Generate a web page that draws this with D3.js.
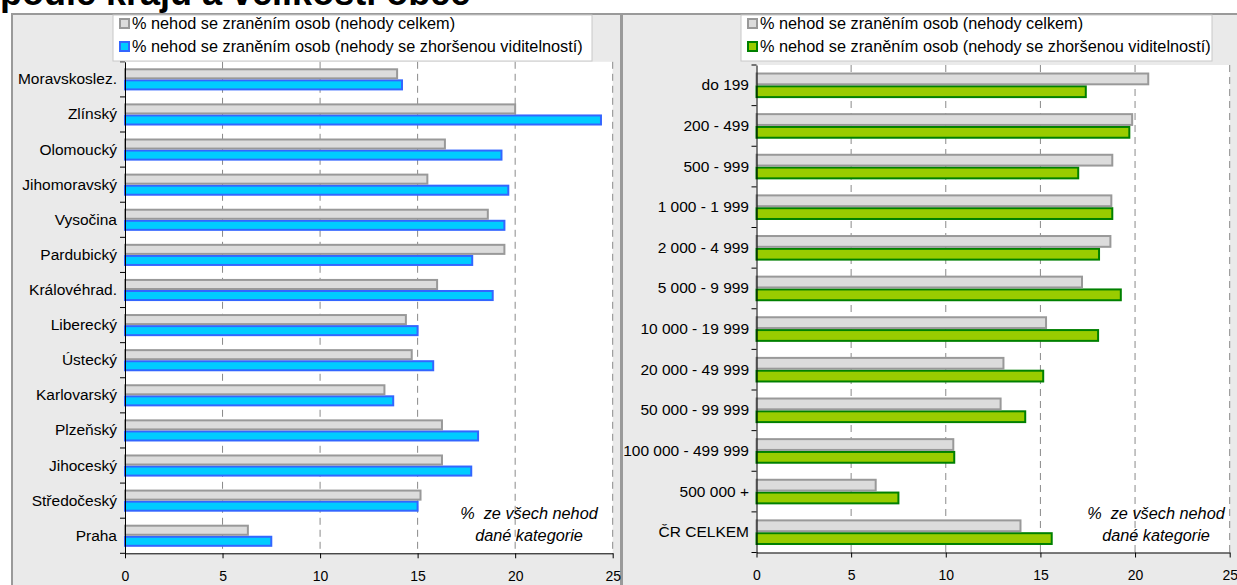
<!DOCTYPE html>
<html>
<head>
<meta charset="utf-8">
<script src="https://cdn.jsdelivr.net/npm/d3@7"></script>
<style>
  html, body { margin: 0; padding: 0; background: #ffffff; }
  svg { display: block; font-family: Arial, "Liberation Sans", sans-serif; }
</style>
</head>
<body>
<svg id="chart" width="1237" height="585"></svg>
<script>
// Regions (kraje), top to bottom
const regions = ["Moravskoslez.", "Zlínský", "Olomoucký", "Jihomoravský", "Vysočina",
  "Pardubický", "Královéhrad.", "Liberecký", "Ústecký", "Karlovarský", "Plzeňský",
  "Jihoceský", "Středočeský", "Praha"];
// % of accidents with injuries – all accidents
const regionTotal = [14.0, 20.05, 16.45, 15.55, 18.65, 19.5, 16.05, 14.45, 14.75, 13.35,
  16.3, 16.3, 15.2, 6.35];
// % of accidents with injuries – accidents with reduced visibility
const regionVisibility = [14.25, 24.45, 19.35, 19.7, 19.5, 17.85, 18.9, 15.05, 15.85, 13.8,
  18.15, 17.8, 15.05, 7.55];

// Municipality size classes (inhabitants), top to bottom
const sizeClasses = ["do 199", "200 - 499", "500 - 999", "1 000 - 1 999", "2 000 - 4 999",
  "5 000 - 9 999", "10 000 - 19 999", "20 000 - 49 999", "50 000 - 99 999",
  "100 000 - 499 999", "500 000 +", "ČR CELKEM"];
const sizeTotal = [20.75, 19.9, 18.85, 18.8, 18.75, 17.25, 15.35, 13.1, 12.95, 10.45, 6.35, 14.0];
const sizeVisibility = [17.45, 19.75, 17.05, 18.85, 18.15, 19.3, 18.1, 15.2, 14.25, 10.5, 7.55, 15.65];

const xTicks = [0, 5, 10, 15, 20, 25];
const legendLabels = ["% nehod se zraněním osob (nehody celkem)",
  "% nehod se zraněním osob (nehody se zhoršenou viditelností)"];
const noteLines = ["%  ze všech nehod", "dané kategorie"];
const titleText = "podle krajů a velikosti obce";

const svg = d3.select("#chart");
const TICK_FONT = 14;
const LABEL_FONT = 15.5;
const LEGEND_FONT = 16.3;
const NOTE_FONT = 16.3;

// Title line (runs above the top edge)
svg.append("text")
  .attr("x", 0).attr("y", 5)
  .attr("font-size", 36).attr("font-weight", "bold").attr("fill", "#000")
  .text(titleText);

const grayStyle = { fill: "#dcdcdc", stroke: "#999999" };

function drawPanel(cfg) {
  const g = svg.append("g");

  // panel background and frame
  g.append("rect")
    .attr("x", cfg.panel.x).attr("y", cfg.panel.y)
    .attr("width", cfg.panel.w).attr("height", cfg.panel.h)
    .attr("fill", "#eaeaea").attr("stroke", "#9a9a9a").attr("stroke-width", 2);

  const x = d3.scaleLinear().domain([0, 25]).range([cfg.plot.x0, cfg.plot.x1]);
  const y = d3.scaleBand().domain(cfg.categories).range([cfg.plot.y0, cfg.plot.y1])
    .paddingInner(0).paddingOuter(0);

  // plot area
  g.append("rect")
    .attr("x", cfg.plot.x0).attr("y", cfg.plot.y0)
    .attr("width", cfg.plot.x1 - cfg.plot.x0).attr("height", cfg.plot.y1 - cfg.plot.y0)
    .attr("fill", "#ffffff");

  // dashed vertical gridlines
  g.append("g").selectAll("line")
    .data(xTicks.filter(d => d > 0))
    .join("line")
    .attr("x1", d => x(d)).attr("x2", d => x(d))
    .attr("y1", cfg.plot.y0).attr("y2", cfg.plot.y1)
    .attr("stroke", "#8a8a8a").attr("stroke-width", 1)
    .attr("stroke-dasharray", "7,5");

  // bars: each bar takes ~31.5% of the band, pair centred in the band
  const bh = y.bandwidth() * 0.315;
  const off = (y.bandwidth() - 2 * bh) / 2;
  const rows = cfg.categories.map((c, i) => ({ c, total: cfg.total[i], vis: cfg.vis[i] }));

  g.append("g").selectAll("rect")
    .data(rows)
    .join("rect")
    .attr("x", x(0))
    .attr("y", d => y(d.c) + off + bh + 1)
    .attr("width", d => x(d.vis) - x(0) - 1)
    .attr("height", bh - 2)
    .attr("fill", cfg.color.fill).attr("stroke", cfg.color.stroke).attr("stroke-width", 2);

  g.append("g").selectAll("rect")
    .data(rows)
    .join("rect")
    .attr("x", x(0))
    .attr("y", d => y(d.c) + off + 1)
    .attr("width", d => x(d.total) - x(0) - 1)
    .attr("height", bh - 2)
    .attr("fill", grayStyle.fill).attr("stroke", grayStyle.stroke).attr("stroke-width", 2);

  // x axis
  const xa = g.append("g")
    .attr("transform", `translate(0,${cfg.plot.y1})`)
    .call(d3.axisBottom(x).tickValues(xTicks).tickSize(5).tickSizeOuter(0).tickPadding(13));
  xa.select(".domain").attr("stroke", "#000");
  xa.selectAll(".tick line").attr("stroke", "#000");
  xa.selectAll("text").attr("font-size", TICK_FONT).attr("fill", "#000")
    .attr("font-family", "Arial, 'Liberation Sans', sans-serif");

  // y axis: labels centred in bands, tick marks on band boundaries
  const ya = g.append("g")
    .attr("transform", `translate(${cfg.plot.x0},0)`)
    .call(d3.axisLeft(y).tickSize(0).tickPadding(cfg.labelPad));
  ya.select(".domain").attr("stroke", "#000");
  ya.selectAll("text").attr("font-size", LABEL_FONT).attr("fill", "#000")
    .attr("font-family", "Arial, 'Liberation Sans', sans-serif");
  g.append("g").selectAll("line")
    .data(d3.range(cfg.categories.length + 1))
    .join("line")
    .attr("x1", cfg.plot.x0 - 5).attr("x2", cfg.plot.x0)
    .attr("y1", i => cfg.plot.y0 + i * y.step())
    .attr("y2", i => cfg.plot.y0 + i * y.step())
    .attr("stroke", "#000");

  // legend
  const lg = g.append("g").attr("transform", `translate(${cfg.legend.x},${cfg.legend.y})`);
  lg.append("rect")
    .attr("width", cfg.legend.w).attr("height", cfg.legend.h)
    .attr("fill", "#fff").attr("stroke", "#c8c8c8").attr("stroke-width", 1);
  const items = [grayStyle, cfg.color];
  items.forEach((st, i) => {
    lg.append("rect")
      .attr("x", 7).attr("y", 4 + i * 23)
      .attr("width", 9).attr("height", 9)
      .attr("fill", st.fill).attr("stroke", st.stroke).attr("stroke-width", 2);
    lg.append("text")
      .attr("x", 19).attr("y", 14 + i * 23)
      .attr("font-size", LEGEND_FONT).attr("fill", "#000")
      .text(legendLabels[i]);
  });

  // note in the lower right corner
  noteLines.forEach((t, i) => {
    g.append("text")
      .attr("x", cfg.noteX).attr("y", 519 + i * 22)
      .attr("text-anchor", "middle")
      .attr("font-size", NOTE_FONT).attr("font-style", "italic").attr("fill", "#000")
      .style("white-space", "pre")
      .text(t);
  });
}

drawPanel({
  categories: regions, total: regionTotal, vis: regionVisibility,
  color: { fill: "#00ccff", stroke: "#3366ff" },
  panel: { x: 12, y: 14, w: 609, h: 600 },
  plot: { x0: 125, x1: 612.7, y0: 61.8, y1: 553.3 },
  legend: { x: 113, y: 15, w: 479, h: 46 },
  labelPad: 8,
  noteX: 529
});

drawPanel({
  categories: sizeClasses, total: sizeTotal, vis: sizeVisibility,
  color: { fill: "#99cc00", stroke: "#008000" },
  panel: { x: 622, y: 14, w: 640, h: 600 },
  plot: { x0: 756.5, x1: 1229.7, y0: 65, y1: 552.5 },
  legend: { x: 741, y: 15, w: 471, h: 46 },
  labelPad: 7.5,
  noteX: 1156
});
</script>
</body>
</html>
